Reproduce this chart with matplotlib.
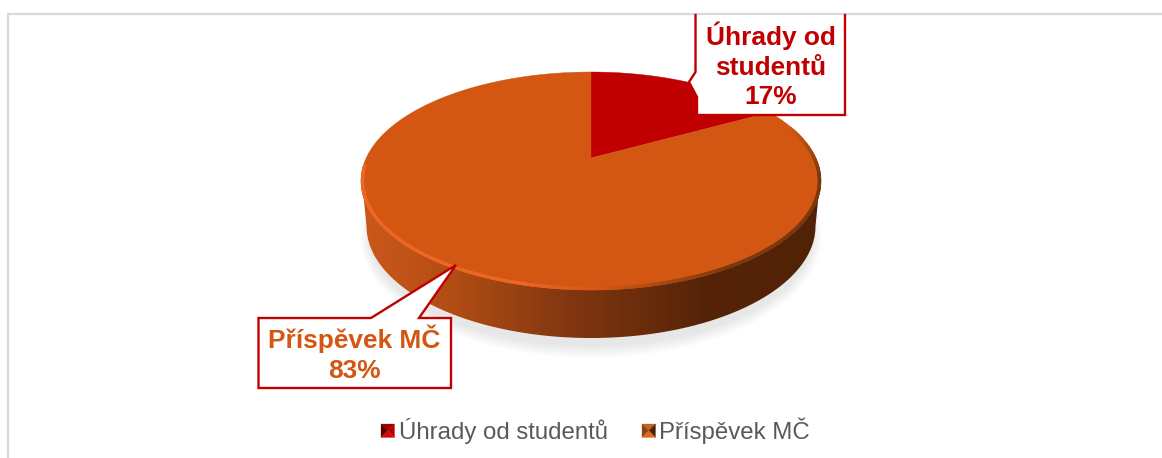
import numpy as np
import matplotlib
matplotlib.use("Agg")
import matplotlib.pyplot as plt
from matplotlib.colors import LinearSegmentedColormap, to_rgb
from matplotlib.patches import Polygon, Ellipse
from matplotlib.collections import LineCollection

categories = ["Úhrady od studentů", "Příspěvek MČ"]
values = [17, 83]
colors = ["#C00000", "#D35713"]
percent_labels = ["17%", "83%"]

plt.rcParams["font.family"] = ["Liberation Sans", "DejaVu Sans"]
W, H = 1162, 458
fig = plt.figure(figsize=(W / 100, H / 100), dpi=100, facecolor="white")
ax = fig.add_axes([0, 0, 1, 1])
ax.set_xlim(0, W)
ax.set_ylim(H, 0)
ax.axis("off")

# Perspective projection of the unit disc
SEMI_X, SEMI_Y = 230.0, 109.0
CX, CY, BETA = 591, 181, 23.0
K = BETA / SEMI_Y
ALPHA = SEMI_Y
A = SEMI_X * np.sqrt(1 - K ** 2)
DEPTH_CY, DEPTH_A, DEPTH_B = 226, 224.5, 112


def project(phi):
    u, v = np.sin(phi), np.cos(phi)
    d = 1 + K * v
    return CX + A * u / d, CY - (ALPHA * v + BETA) / d


# Soft shadow
for i in range(12):
    ax.add_patch(Ellipse((591, 236), 2 * (221 + i * 0.9), 2 * (110 + i * 1.1),
                         fc="#808080", ec="none", alpha=0.016, zorder=1))

# Side wall with horizontal gradient
t = np.linspace(0, np.pi, 300)
top_x = CX - (SEMI_X - 1) * np.cos(t)
top_y = CY + (SEMI_Y - 1) * np.sin(t)
s = np.linspace(0.0, np.pi, 300)
bot_x = CX - DEPTH_A * np.cos(s)
bot_y = DEPTH_CY + DEPTH_B * np.sin(s)
# wall outline bulges smoothly from the disc edge to the lower ellipse
left_join = np.column_stack([np.linspace(CX - SEMI_X + 1, CX - DEPTH_A, 12),
                             np.linspace(CY, DEPTH_CY, 12)])
side = np.vstack([np.column_stack([top_x, top_y]),
                  np.column_stack([bot_x[::-1], bot_y[::-1]]), left_join[::-1]])
side_patch = Polygon(side, closed=True, fc="none", ec="none", zorder=2)
ax.add_patch(side_patch)
cmap = LinearSegmentedColormap.from_list("side", [
    (0.00, "#C9581C"), (0.12, "#BE5216"), (0.28, "#A24612"), (0.45, "#823610"),
    (0.60, "#6C2E0C"), (0.74, "#552408"), (1.00, "#522206")])
grad = np.linspace(0, 1, 460)[None, :]
im = ax.imshow(grad, extent=[361, 821, 345, 170], cmap=cmap, aspect="auto",
               interpolation="bilinear", zorder=3)
im.set_clip_path(side_patch)
ax.set_xlim(0, W)
ax.set_ylim(H, 0)

# Top surface: slices from the data
edges = np.cumsum([0] + values) / sum(values) * 2 * np.pi
apex = (CX, CY - BETA)
for i in range(len(values)):
    phi = np.linspace(edges[i], edges[i + 1], 300)
    x, y = project(phi)
    poly = np.column_stack([np.r_[apex[0], x], np.r_[apex[1], y]])
    ax.add_patch(Polygon(poly, closed=True, fc=colors[i], ec=colors[i], lw=0.3, zorder=5))

# Bevel rim, drawn just inside the lower edge of the top disc
rim_phi = np.linspace(np.radians(72), np.radians(266), 500)
rx, ry = project(rim_phi)
rx = CX + (rx - CX) * (1 - 1.5 / SEMI_X)
ry = CY + (ry - CY) * (1 - 1.5 / SEMI_Y)
pts = np.column_stack([rx, ry])
segs = np.stack([pts[:-1], pts[1:]], axis=1)
light = np.array(to_rgb("#EC6626"))
dark = np.array(to_rgb("#7A380E"))
base = np.array(to_rgb(colors[1]))
cols = []
for x, p in zip(rx[:-1], rim_phi[:-1]):
    if x > 600:
        f = np.clip((x - 600) / 130, 0, 1) * np.clip((p - np.radians(72)) / np.radians(28), 0, 1)
        cols.append(base * (1 - f) + dark * f)
    else:
        f = np.clip((600 - x) / 80, 0, 1)
        cols.append(base * (1 - f) + light * f)
ax.add_collection(LineCollection(segs, colors=cols, linewidths=2.4, capstyle="round", zorder=6))

# Frame
ax.plot([7.5, 7.5, W], [H, 14, 14], color="#D9D9D9", lw=1.6, zorder=1,
        solid_joinstyle="miter")

# Callouts
RED = colors[0]
call1 = [(695.5, 15), (845, 15), (845, 115), (697, 115), (697, 97), (689, 82), (695.5, 72)]
ax.add_patch(Polygon(call1, closed=True, fc="white", ec="none", zorder=7))
ax.plot([695.5, 695.5, 689, 697, 697, 845, 845], [15, 72, 82, 97, 115, 115, 15],
        color=RED, lw=1.7, zorder=8, solid_joinstyle="miter")
name1, name2 = categories[0].rsplit(" ", 1)
ax.text(770.5, 65.5, f"{name1}\n{name2}\n{percent_labels[0]}",
        ha="center", va="center", color=RED, fontsize=18.9, fontweight="bold",
        linespacing=1.3, zorder=9)

call2 = [(258.5, 318), (371, 318), (456, 265), (419, 318), (451, 318), (451, 388), (258.5, 388)]
ax.add_patch(Polygon(call2, closed=True, fc="white", ec=RED, lw=1.7, joinstyle="miter", zorder=7))
ax.text(354.5, 354, f"{categories[1]}\n{percent_labels[1]}", ha="center", va="center",
        color=colors[1], fontsize=18.9, fontweight="bold", linespacing=1.3, zorder=9)


# Legend
def marker(x0, y0, s, top, left, right, bottom):
    c = (x0 + s / 2, y0 + s / 2)
    tl, tr, br, bl = (x0, y0), (x0 + s, y0), (x0 + s, y0 + s), (x0, y0 + s)
    for tri, col in (((tl, tr, c), top), ((tl, bl, c), left), ((tr, br, c), right), ((bl, br, c), bottom)):
        ax.add_patch(Polygon(tri, closed=True, fc=col, ec=col, lw=0.2, zorder=5))


marker(381, 424, 13.5, "#A00000", "#5A0000", "#B80000", "#D80808")
marker(642, 424, 13.5, "#C8601F", "#8C4212", "#4A240A", "#DC6822")
ax.text(399, 431, categories[0], ha="left", va="center", color="#595959", fontsize=17.25)
ax.text(659, 431, categories[1], ha="left", va="center", color="#595959", fontsize=17.25)

fig.savefig("out.png", dpi=100, facecolor="white")
